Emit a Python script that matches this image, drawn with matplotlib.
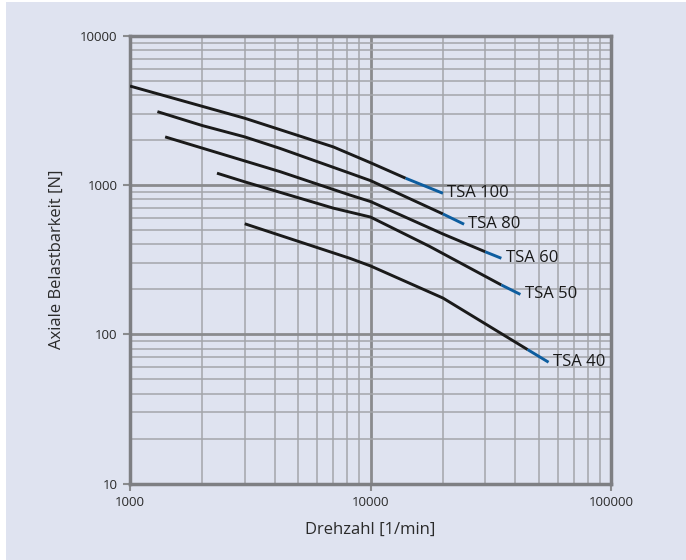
import matplotlib
matplotlib.use("Agg")
import matplotlib.pyplot as plt
from matplotlib.patches import Rectangle
from matplotlib.ticker import LogLocator, FixedLocator, NullFormatter

plt.rcParams['font.family'] = ['Open Sans', 'DejaVu Sans']

# Drehzahl [1/min] / Axiale Belastbarkeit [N]
tsa100_rpm = [1000, 3000, 7000, 10000, 14000, 20000]
tsa100_load = [4600, 2800, 1800, 1410, 1110, 880]
tsa80_rpm = [1300, 2000, 3000, 4200, 8200, 10000, 20000, 24500]
tsa80_load = [3100, 2500, 2100, 1760, 1200, 1070, 640, 546]
tsa60_rpm = [1400, 4200, 8200, 10000, 20000, 30000, 35000]
tsa60_load = [2100, 1230, 857, 775, 470, 357, 323]
tsa50_rpm = [2300, 3000, 7000, 10000, 17500, 35000, 42000]
tsa50_load = [1200, 1050, 700, 610, 390, 214, 185]
tsa40_rpm = [3000, 8200, 10000, 20000, 45000, 55000]
tsa40_load = [550, 323, 287, 175, 79, 65]

names = ["TSA 100", "TSA 80", "TSA 60", "TSA 50", "TSA 40"]
rpms = [tsa100_rpm, tsa80_rpm, tsa60_rpm, tsa50_rpm, tsa40_rpm]
loads = [tsa100_load, tsa80_load, tsa60_load, tsa50_load, tsa40_load]
blue_from = [4, 6, 5, 5, 4]   # index where the blue end part starts

bg = "#dfe3f0"
fig = plt.figure(figsize=(6.86, 5.6), dpi=100, facecolor="white")
fig.patches.append(Rectangle((6 / 686, 0), 1, 1 - 2 / 560, transform=fig.transFigure,
                             facecolor=bg, edgecolor="none", zorder=-10))
ax = fig.add_axes([130 / 686, 1 - 483.6 / 560, 481 / 686, 447.9 / 560])
ax.set_facecolor(bg)
ax.set_xscale("log")
ax.set_yscale("log")
ax.set_xlim(1000, 100000)
ax.set_ylim(10, 10000)

ax.xaxis.set_major_locator(FixedLocator([1000, 10000, 100000]))
ax.yaxis.set_major_locator(FixedLocator([10, 100, 1000, 10000]))
ax.set_xticklabels(["1000", "10000", "100000"])
ax.set_yticklabels(["10", "100", "1000", "10000"])
ax.xaxis.set_minor_locator(LogLocator(base=10, subs=range(2, 10)))
ax.yaxis.set_minor_locator(LogLocator(base=10, subs=range(2, 10)))
ax.xaxis.set_minor_formatter(NullFormatter())
ax.yaxis.set_minor_formatter(NullFormatter())

ax.grid(which="major", color="#8a8b8e", linewidth=2.0)
ax.grid(which="minor", color="#a3a5aa", linewidth=1.1)
ax.set_axisbelow(True)
ax.tick_params(which="major", direction="out", length=5, width=1.5, color="#8a8b8e",
               labelsize=9.5, labelcolor="#2a2a2a", pad=4)
ax.tick_params(which="minor", length=0)
for s in ax.spines.values():
    s.set_color("#7e7f83")
    s.set_linewidth(2.5)

for name, x, y, b in zip(names, rpms, loads, blue_from):
    ax.plot(x[:b + 1], y[:b + 1], color="#1a1a1a", lw=2.1, solid_capstyle="butt", zorder=3)
    ax.plot(x[b:], y[b:], color="#0d5d9f", lw=2.1, solid_capstyle="butt", zorder=3)
    ax.annotate(name, (x[-1], y[-1]), xytext=(3, 0), textcoords="offset points",
                va="center", ha="left", fontsize=12, color="#1a1a1a",
                annotation_clip=False, zorder=4)

ax.set_xlabel("Drehzahl [1/min]", fontsize=12, color="#2a2a2a", labelpad=9)
ax.set_ylabel("Axiale Belastbarkeit [N]", fontsize=12, color="#2a2a2a", labelpad=11)

fig.savefig("out.png", dpi=100, facecolor=fig.get_facecolor())
